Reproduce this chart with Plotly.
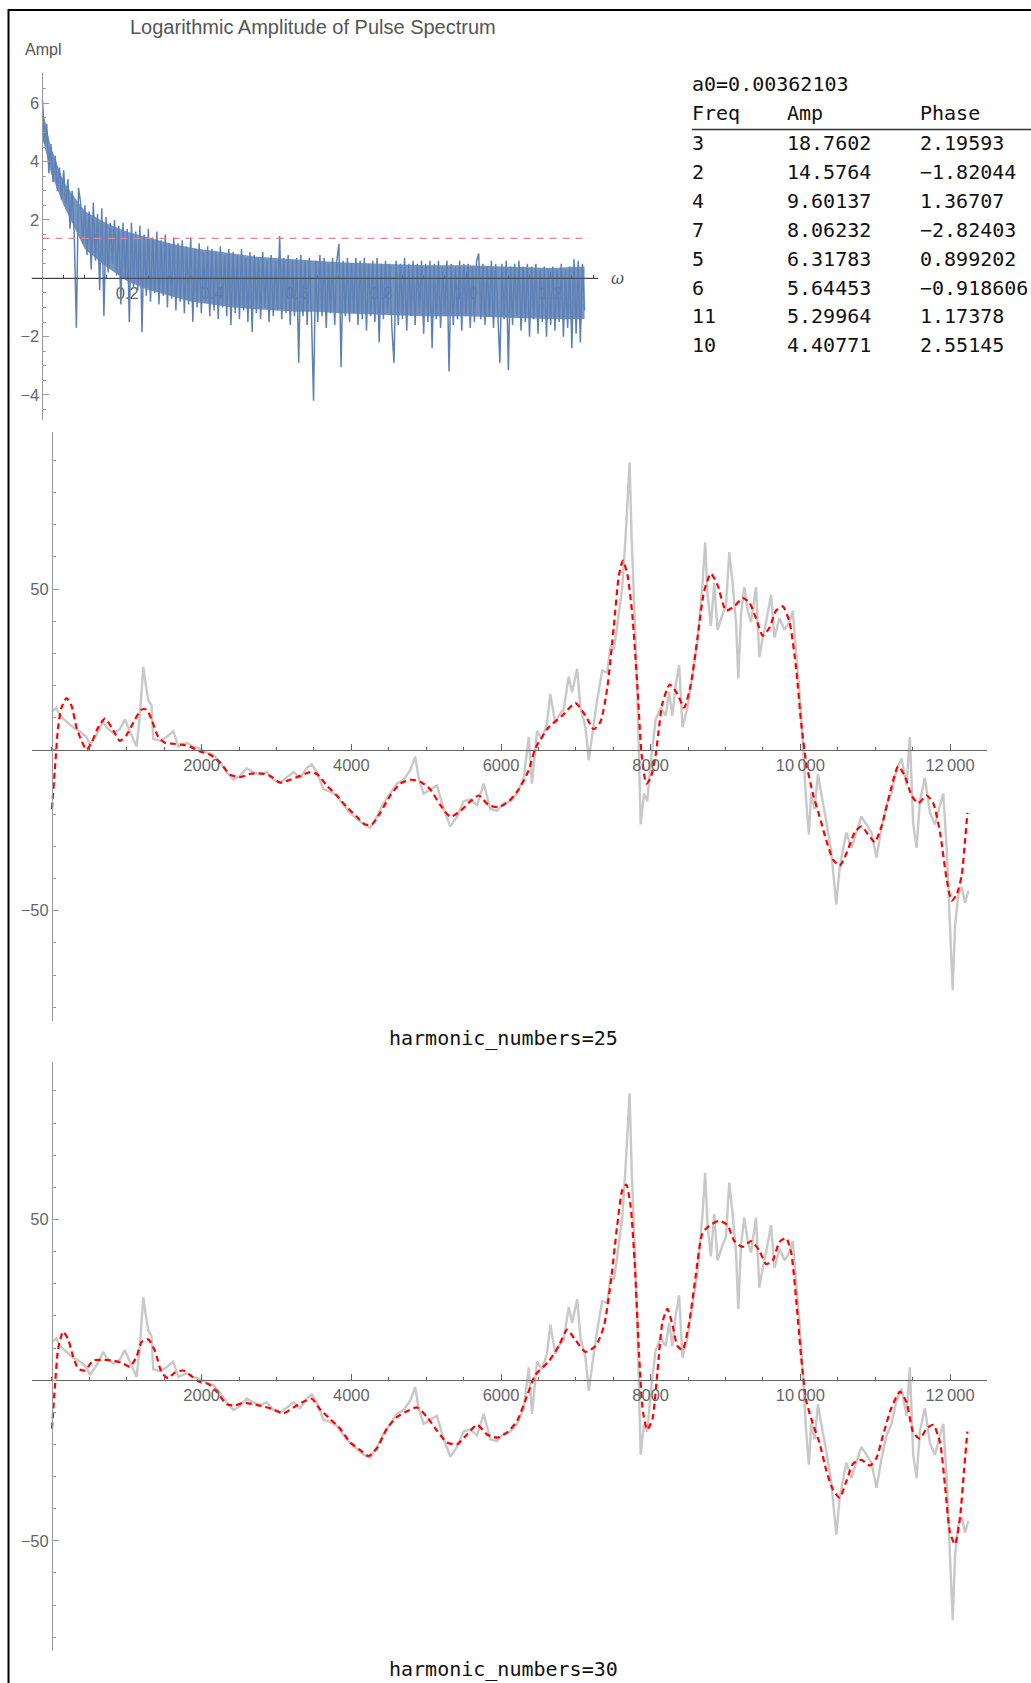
import plotly.graph_objects as go

W, H = 1031, 1683

# ---------------- data ----------------
# top panel: log amplitude of the pulse spectrum, sampled every 0.005 in omega
omega_step = 0.005
log_amp = [
    6.1, 4.6, 5.3, 3.6, 4.6, 3.3, 4.2, 3.0, 3.8, 2.7,
    3.7, 2.5, 3.4, 1.7, 3.0, 1.5, -1.7, 3.1, 2.6, 1.2,
    2.5, 0.8, 2.3, 0.3, 2.6, 0.6, 2.2, -0.4, 2.4, -1.3,
    2.1, 0.2, 1.9, 0.5, 2.0, 0.1, 1.8, -0.9, 1.9, 0.0,
    1.7, -1.5, 1.9, -0.3, 1.6, -0.4, 1.8, -1.85, 1.5, -0.6,
    1.7, -0.8, 1.4, -0.5, 1.6, -0.9, 1.3, -0.6, 1.5, -1.0,
    1.2, -0.7, 1.4, -1.1, 1.2, -0.8, 1.3, -1.2, 1.1, -0.9,
    1.4, -1.5, 1.0, -1.0, 1.2, -1.2, 0.9, -0.8, 1.1, -1.3,
    1.0, -1.1, 0.9, -1.4, 1.1, -1.0, 0.8, -1.3, 1.0, -1.6,
    0.9, -1.2, 0.8, -1.4, 1.0, -1.1, 0.7, -1.5, 0.9, -1.85,
    0.8, -1.2, 0.7, -1.4, 0.9, -1.0, 0.6, -1.5, 0.8, -1.3,
    0.6, -1.1, 1.45, -1.4, 0.7, -1.2, 0.8, -1.6, 0.6, -1.3,
    0.7, -2.9, 0.8, -1.3, 0.6, -1.6, 0.7, -1.2, -4.2, 0.6,
    -1.5, 0.8, -1.3, 0.7, -1.7, 0.5, -1.2, 0.7, -1.6, 0.6,
    1.18, -3.05, 0.6, -1.3, 0.7, -1.5, 0.5, -1.2, 0.7, -1.6,
    0.6, -1.4, 0.7, -1.8, 0.5, -1.3, 0.6, -1.5, 0.7, -2.2,
    0.5, -1.4, 0.6, -1.2, 0.5, -1.7, -2.9, 0.6, -1.6, 0.5,
    -1.4, 0.7, -1.8, 0.5, -1.3, 0.6, -1.6, 0.5, -1.2, 0.6,
    -1.9, 0.5, -1.5, 0.6, -2.4, 0.5, -1.4, 0.6, -1.7, 0.4,
    -1.3, 0.6, -3.2, 0.5, -1.6, 0.4, -1.4, 0.6, -1.8, 0.5,
    -1.3, 0.5, -1.7, 0.4, -1.5, 0.6, 0.85, -1.4, 0.5, -1.6,
    0.4, -1.3, 0.6, -1.7, 0.5, -1.5, -2.9, 0.5, -1.4, 0.6,
    -3.15, 0.4, -1.6, 0.5, -1.3, 0.6, -1.8, 0.4, -1.5, 0.5,
    -2.0, 0.4, -1.4, 0.5, -1.9, 0.3, -1.5, 0.4, -2.0, 0.3,
    -1.6, 0.4, -1.8, 0.3, -1.5, 0.5, -2.0, 0.3, -1.7, 0.4,
    -2.4, 0.65, -1.9, 0.6, -2.2, 0.5, -1.1,
]
omega = [i * omega_step for i in range(len(log_amp))]
# dense core of the spectrum band (read as envelopes)
band_x = [0.0, 0.02, 0.05, 0.1, 0.15, 0.2, 0.25, 0.3, 0.35, 0.4, 0.45, 0.5, 0.55, 0.6, 0.65, 0.7,
          0.8, 0.9, 1.0, 1.1, 1.2, 1.28]
band_hi = [5.8, 4.5, 3.3, 2.3, 1.9, 1.6, 1.4, 1.2, 1.05, 0.95, 0.85, 0.75, 0.7, 0.65, 0.6, 0.55,
           0.5, 0.45, 0.45, 0.4, 0.35, 0.4]
band_lo = [4.8, 3.6, 2.5, 1.0, 0.4, -0.1, -0.4, -0.6, -0.8, -0.9, -1.0, -1.05, -1.1, -1.15, -1.15, -1.2,
           -1.25, -1.3, -1.3, -1.35, -1.4, -1.4]
threshold_x = [0.0, 1.29]
threshold_y = [1.37, 1.37]

# table
a0_value = "0.00362103"
table_freq = [3, 2, 4, 7, 5, 6, 11, 10]
table_amp = ["18.7602", "14.5764", "9.60137", "8.06232", "6.31783", "5.64453", "5.29964", "4.40771"]
table_phase = ["2.19593", "-1.82044", "1.36707", "-2.82403", "0.899202", "-0.918606", "1.17378", "2.55145"]

# original signal (gray), same in both lower panels
signal_x = [0, 60, 105, 194, 283, 372, 461, 506, 595, 684, 729, 818, 907, 974, 1041, 1130, 1175, 1220,
            1255, 1286, 1331, 1353, 1443, 1532, 1621, 1688, 1799, 1888, 1978, 2067, 2156, 2245, 2334,
            2424, 2513, 2602, 2691, 2781, 2870, 2959, 3048, 3137, 3227, 3316, 3405, 3472, 3539, 3628,
            3717, 3806, 3896, 3985, 4074, 4163, 4252, 4342, 4431, 4520, 4609, 4698, 4788, 4854, 4899,
            4966, 5055, 5144, 5234, 5323, 5412, 5501, 5590, 5680, 5769, 5858, 5947, 6036, 6126, 6215,
            6304, 6371,
            6414, 6481, 6548, 6615, 6659, 6726, 6771, 6838, 6905, 6950, 7017, 7062, 7129, 7173, 7218,
            7285, 7352, 7419, 7464, 7508, 7553, 7620, 7665, 7687, 7718, 7745, 7777, 7821, 7866, 7911,
            7955, 8000, 8067, 8134, 8201, 8246, 8290, 8335, 8380, 8425, 8492, 8559, 8626, 8693, 8728,
            8760, 8804, 8849, 8894, 8961, 9006, 9050, 9095, 9140, 9171, 9207, 9251, 9296, 9341, 9408,
            9452, 9497, 9542, 9609, 9654, 9721, 9788, 9855, 9899, 9944, 9989, 10033, 10078, 10114,
            10145, 10190, 10235, 10279, 10346, 10413, 10480, 10525, 10570, 10614, 10681, 10748, 10815,
            10883, 10950, 11017, 11084, 11151, 11218, 11285, 11352, 11419, 11463, 11508, 11553, 11597,
            11664, 11732, 11799, 11866, 11910, 11955, 12000, 12036, 12067, 12112, 12156, 12201, 12246]
signal_y = [11.9, 13, 10.6, 8.8, 7, 5.8, 4, 1.6, 4.6, 8.8, 7, 5.2, 6.4, 9.4, 5.8, 1, 10.6, 25.8,
            20, 15.5, 13.7, 3.4, 2.8, 4, 5.8, 1, 2.2, 1, 0.4, -0.8, -1.5, -3.9, -6.9,
            -9.3, -8.1, -5.7, -6.9, -7.7, -6.9, -9.3, -10.2, -8.7, -6.9, -8.7, -5.7, -4.5, -6.9, -12.3,
            -13, -14.2, -17.2, -19.6, -21.4, -23.2, -24.2, -20.8, -16.6, -13.6, -10.5, -9.3, -6.3, -2.1, -8.7,
            -13.6, -12.3, -11.1, -18.4, -23.8, -20.8, -16, -15.4, -17.2, -10.5, -18.4, -19, -16.6, -16, -13.6,
            -8.7, 4,
            -10.5, 5.8, 3.4, 8.2, 17.3, 8.2, 10.6, 12.5, 22.8, 17.9, 25.2, 13.1, 7, -3.3, 4.6,
            15.5, 24.6, 24, 32.4, 31.2, 38.5, 50.6, 66.3, 76, 89.3, 66.3, 48.2, 19.1, -23.2, -13.6,
            -16, -3.9, 9.4, 13.1, 10.6, 17.9, 10.6, 20.3, 26.4, 7, 13.1, 22.8, 33.7, 51.8, 64.5,
            48.2, 38.5, 51.8, 37.3, 42.1, 44.6, 61.5, 51.8, 39.7, 22.2, 42.1, 50.6, 43.3, 39.7, 50.6,
            28.8, 34.9, 39.7, 48.2, 34.9, 40.9, 37.3, 39.7, 43.3, 30, 17.9, 2.2, -16, -26.3,
            -13.6, -18.4, -7.5, -13.6, -22, -31.7, -48.1, -36.6, -30.5, -25.7, -30.5, -25.7, -20.8,
            -23.2, -25.7, -33.5, -24.5, -17.2, -13.6, -6.3, -2.7, -11.1, 4, -23.2, -30.5, -16,
            -8.7, -19.6, -23.2, -17.2, -13.6, -30.5, -57.1, -74.7, -54.7, -45, -42.6, -47.5, -43.8]

# Fourier reconstruction with 25 harmonics (red dashed, middle)
fit25_x = [0, 38, 82, 127, 194, 261, 327, 394, 461, 528, 617, 707, 796, 907, 996, 1108, 1197, 1264,
           1331, 1420, 1509, 1621, 1732, 1844, 1978, 2112, 2245, 2379, 2513, 2647, 2781, 2914, 3048,
           3182, 3316, 3450, 3539, 3673, 3806, 3940, 4074, 4185, 4275, 4386, 4520, 4654, 4788, 4921,
           5055, 5189, 5323, 5457, 5590, 5702, 5836, 5969, 6103, 6237, 6371,
           6458, 6637, 6816, 6994, 7129, 7240, 7330, 7419, 7508, 7575, 7629, 7687, 7754, 7821, 7879,
           7942, 8000, 8067, 8156, 8255, 8358, 8447, 8536, 8626, 8715, 8804, 8894, 9006, 9117, 9229,
           9318, 9408, 9497, 9586, 9676, 9765, 9855, 9944, 10011, 10078, 10167, 10257, 10346, 10436,
           10525, 10614, 10726, 10815, 10905, 10994, 11084, 11195, 11307, 11396, 11486, 11575, 11687,
           11776, 11866, 11955, 12022, 12089, 12156, 12201, 12232]
fit25_y = [-18.4, -6.3, 7, 13.1, 16.1, 13.7, 7, 2.8, 0, 2.2, 7, 9.7, 7, 2.8, 4.6, 9.4, 12.5, 12.5,
           9.4, 4, 2.2, 1.9, 1.6, 1, -0.5, -1.5, -3.9, -7.7, -8.5, -7.5, -7.3, -8.1, -10.2,
           -9.3, -8.1, -6.9, -7.5, -11.1, -14.2, -17.8, -20.8, -23.2, -23.2, -19.6, -14.2, -10.5, -9.3, -9.9,
           -12.3, -17.2, -20.8, -19, -16, -14.2, -17.2, -17.8, -16, -12.3, -6.3,
           0.4, 7, 10.6, 14.5, 10.6, 6.4, 8.8, 19.1, 38.5, 54.2, 58.8, 54.8, 42.1, 20.3, -1.5,
           -10.5, -8.7, -1.5, 14.3, 20.3, 17.3, 13.1, 20.3, 34.9, 49.4, 54.8, 51.2, 43.3, 44.6, 47.2,
           45.8, 40.9, 35.5, 37.9, 43.3, 44.6, 39.7, 25.2, 8.2, -3.9, -13.6, -20.8, -28.1, -34.1,
           -36, -32.3, -25.7, -23.8, -26.3, -28.7, -23.8, -13.6, -5.1, -8.1, -14.2, -16.6, -14.2,
           -16.6, -25.7, -40.2, -46.9, -45, -39, -28.1, -19.6]

# Fourier reconstruction with 30 harmonics (red dashed, bottom)
fit30_x = [0, 38, 82, 149, 216, 283, 350, 439, 550, 684, 818, 930, 1041, 1130, 1197, 1286, 1376, 1465,
           1554, 1643, 1755, 1866, 1978, 2089, 2201, 2335, 2446, 2558, 2691, 2825, 2959, 3093, 3227,
           3360, 3472, 3583, 3717, 3851, 3985, 4119, 4230, 4342, 4475, 4609, 4743, 4877, 5011, 5144,
           5278, 5412, 5546, 5680, 5813, 5947, 6081, 6215, 6349,
           6458, 6637, 6771, 6883, 6994, 7129, 7263, 7374, 7464, 7553, 7620, 7674, 7732, 7790, 7844,
           7897, 7955, 8022, 8089, 8156, 8223, 8290, 8358, 8425, 8514, 8603, 8693, 8804, 8916, 9028,
           9117, 9229, 9341, 9452, 9542, 9631, 9721, 9810, 9877, 9944, 10011, 10078, 10167, 10257,
           10346, 10436, 10525, 10614, 10704, 10815, 10927, 11017, 11106, 11218, 11329, 11419, 11508,
           11598, 11687, 11776, 11866, 11933, 12000, 12067, 12134, 12187, 12232]
fit30_y = [-15.1, -2.4, 9.7, 15.1, 12.7, 7.3, 3.6, 3, 6.1, 6.3, 6.1, 5.4, 4.2, 7.3, 11.9, 12.7, 9.1, 2.4,
           0.6, 2.4, 3, 1.2, -0.6, -1.2, -3.6, -7.5, -7.9, -7, -7.5, -8.2, -9.1, -10.3, -8.5,
           -6.7, -5.8, -9.1, -12.1, -15.1, -19.4, -21.8, -23.6, -21.2, -15.1, -11.5, -9.7, -8.5, -11.5, -15.7,
           -19.4, -20, -16.9, -13.9, -16.9, -17.9, -16.3, -12.7, -4.8,
           1.6, 5.8, 10.6, 15.7, 12.5, 8.8, 10.6, 16.7, 30, 48.2, 59.1, 60.9, 54.2, 34.9, 8.2,
           -9.9, -15.4, -12.3, 2.2, 17.9, 22.2, 17.3, 10.6, 9.4, 17.9, 32.7, 45.8, 48.4, 49.6, 48.2,
           43.3, 41.5, 43.3, 40.3, 36.1, 37.3, 43, 44.2, 39.7, 25.2, 7, -6.3, -13.6, -19.6,
           -28.1, -34.1, -36.6, -31.5, -26, -24.8, -26.6, -24.2, -17, -8.5, -3.6, -6.9, -16.3,
           -18.2, -15.1, -13.9, -19.4, -32.9, -47.5, -51.1, -42.6, -28.1, -16]

for a, b, n in [(signal_x, signal_y, "signal"), (fit25_x, fit25_y, "fit25"), (fit30_x, fit30_y, "fit30"),
                (band_x, band_hi, "hi"), (band_x, band_lo, "lo")]:
    if len(a) != len(b):
        raise ValueError(f"{n}: {len(a)} x vs {len(b)} y")

top_xticks = [0.2, 0.4, 0.6, 0.8, 1.0, 1.2]
top_yticks = [-4, -2, 2, 4, 6]
low_xticks = [2000, 4000, 6000, 8000, 10000, 12000]
low_xticktext = ["2000", "4000", "6000", "8000", "10\u2009000", "12\u2009000"]
low_yticks = [-50, 50]

# ---------------- layout geometry (pixels) ----------------
top_xdom = [31.7 / W, 598 / W]
top_ydom = [1 - 420 / H, 1 - 73.3 / H]
top_xr = [-0.0255, 1.3117]
top_yr = [-4.86, 7.03]

low_xdom = [32 / W, 987 / W]
low_xr = [-267, 12494]
low_yr = [-84.3, 98.9]
mid_ydom = [1 - 1021 / H, 1 - 431.7 / H]
bot_ydom = [1 - 1651 / H, 1 - 1062.4 / H]


def zero_pos(dom, rng):
    return dom[0] + (0 - rng[0]) / (rng[1] - rng[0]) * (dom[1] - dom[0])


BLUE = "#5E81B5"
fig = go.Figure()
fig.add_trace(go.Scatter(x=band_x, y=band_lo, mode="lines", xaxis="x", yaxis="y",
                         line=dict(color=BLUE, width=0), hoverinfo="skip"))
fig.add_trace(go.Scatter(x=band_x, y=band_hi, mode="lines", xaxis="x", yaxis="y", fill="tonexty",
                         fillcolor="rgba(94,129,181,0.85)", line=dict(color=BLUE, width=0), hoverinfo="skip"))
fig.add_trace(go.Scatter(x=omega, y=log_amp, mode="lines", xaxis="x", yaxis="y",
                         line=dict(color=BLUE, width=1.5), hoverinfo="skip"))
fig.add_trace(go.Scatter(x=threshold_x, y=threshold_y, mode="lines", xaxis="x", yaxis="y",
                         line=dict(color="#E8808A", width=1.3, dash="7px,6px")))
fig.add_trace(go.Scatter(x=signal_x, y=signal_y, mode="lines", xaxis="x2", yaxis="y2",
                         line=dict(color="#C8C8C8", width=2.4)))
fig.add_trace(go.Scatter(x=fit25_x, y=fit25_y, mode="lines", xaxis="x2", yaxis="y2",
                         line=dict(color="#FF0000", width=2.2, dash="6px,4px", shape="spline", smoothing=0.6)))
fig.add_trace(go.Scatter(x=signal_x, y=signal_y, mode="lines", xaxis="x3", yaxis="y3",
                         line=dict(color="#C8C8C8", width=2.4)))
fig.add_trace(go.Scatter(x=fit30_x, y=fit30_y, mode="lines", xaxis="x3", yaxis="y3",
                         line=dict(color="#FF0000", width=2.2, dash="6px,4px", shape="spline", smoothing=0.6)))

tickfont = dict(family="Liberation Sans, Arial, sans-serif", size=16.5, color="#666666")


def xaxis(dom, rng, ydom, yrng, tickvals, ticktext, minor_dtick, color, layer="above traces"):
    return dict(domain=dom, range=rng, anchor="free", position=zero_pos(ydom, yrng),
                showline=True, linecolor=color, linewidth=1, ticks="inside", ticklen=6,
                tickcolor=color, tickwidth=1, tickmode="array", tickvals=tickvals, ticktext=ticktext,
                tickfont=tickfont, showgrid=False, zeroline=False, layer=layer,
                minor=dict(ticks="inside", ticklen=3, tickcolor=color, tickwidth=1,
                           tickmode="linear", tick0=0, dtick=minor_dtick, showgrid=False))


def yaxis(dom, rng, xdom, xrng, tickvals, ticktext, minor_dtick, color):
    return dict(domain=dom, range=rng, anchor="free", position=zero_pos(xdom, xrng),
                showline=True, linecolor=color, linewidth=1, ticks="inside", ticklen=6,
                tickcolor=color, tickwidth=1, tickmode="array", tickvals=tickvals, ticktext=ticktext,
                tickfont=tickfont, showgrid=False, zeroline=False,
                minor=dict(ticks="inside", ticklen=3, tickcolor=color, tickwidth=1,
                           tickmode="linear", tick0=0, dtick=minor_dtick, showgrid=False))


def fmt(v):
    return str(v).replace("-", "\u2212")


fig.update_layout(
    width=W, height=H, margin=dict(l=0, r=0, t=0, b=0),
    paper_bgcolor="white", plot_bgcolor="rgba(0,0,0,0)", showlegend=False,
    xaxis=xaxis(top_xdom, top_xr, top_ydom, top_yr, top_xticks, [f"{v:.1f}" for v in top_xticks],
                0.05, "#444444", layer="below traces"),
    yaxis=yaxis(top_ydom, top_yr, top_xdom, top_xr, top_yticks, [fmt(v) for v in top_yticks], 0.5, "#999999"),
    xaxis2=xaxis(low_xdom, low_xr, mid_ydom, low_yr, low_xticks, low_xticktext, 500, "#666666"),
    yaxis2=yaxis(mid_ydom, low_yr, low_xdom, low_xr, low_yticks, [fmt(v) for v in low_yticks], 10, "#999999"),
    xaxis3=xaxis(low_xdom, low_xr, bot_ydom, low_yr, low_xticks, low_xticktext, 500, "#666666"),
    yaxis3=yaxis(bot_ydom, low_yr, low_xdom, low_xr, low_yticks, [fmt(v) for v in low_yticks], 10, "#999999"),
)

shapes = [
    # frame
    dict(type="line", xref="paper", yref="paper", x0=8.5 / W, x1=8.5 / W, y0=1 - 9 / H, y1=0,
         line=dict(color="black", width=2)),
    dict(type="line", xref="paper", yref="paper", x0=8.5 / W, x1=1, y0=1 - 10 / H, y1=1 - 10 / H,
         line=dict(color="black", width=2)),
    # top x-axis line drawn above the spectrum
    dict(type="line", xref="x domain", yref="y", x0=0, x1=1, y0=0, y1=0, layer="above",
         line=dict(color="#444444", width=1)),
    # table header rule
    dict(type="line", xref="paper", yref="paper", x0=692 / W, x1=1, y0=1 - 129.5 / H, y1=1 - 129.5 / H,
         line=dict(color="#333333", width=1.5)),
]

sans = "Liberation Sans, Arial, sans-serif"
mono = "DejaVu Sans Mono, Liberation Mono, monospace"
ann = [
    dict(text="Logarithmic Amplitude of Pulse Spectrum", x=313 / W, y=1 - 27 / H, xanchor="center",
         yanchor="middle", font=dict(family=sans, size=20, color="#555555")),
    dict(text="Ampl", x=23 / W, y=1 - 50 / H, xanchor="left", yanchor="middle",
         font=dict(family=sans, size=16, color="#555555")),
    dict(text="<i>ω</i>", x=609 / W, y=1 - 278 / H, xanchor="left", yanchor="middle",
         font=dict(family="DejaVu Serif, serif", size=16, color="#555555")),
    dict(text=f"a0={a0_value}", x=690 / W, y=1 - 84 / H, xanchor="left", yanchor="middle",
         font=dict(family=mono, size=20, color="#111111")),
    dict(text="harmonic_numbers=25", x=503 / W, y=1 - 1038 / H, xanchor="center", yanchor="middle",
         font=dict(family=mono, size=20, color="#111111")),
    dict(text="harmonic_numbers=30", x=503 / W, y=1 - 1669 / H, xanchor="center", yanchor="middle",
         font=dict(family=mono, size=20, color="#111111")),
]
col_x = [690, 785, 918]
for cx, head in zip(col_x, ["Freq", "Amp", "Phase"]):
    ann.append(dict(text=head, x=cx / W, y=1 - 112.5 / H, xanchor="left", yanchor="middle",
                    font=dict(family=mono, size=20, color="#111111")))
for i, (f, a, p) in enumerate(zip(table_freq, table_amp, table_phase)):
    yy = 1 - (142.7 + i * 28.96) / H
    for cx, t in zip(col_x, [str(f), a, fmt(p)]):
        ann.append(dict(text=t, x=cx / W, y=yy, xanchor="left", yanchor="middle",
                        font=dict(family=mono, size=20, color="#111111")))

for a in ann:
    a.update(xref="paper", yref="paper", showarrow=False)

fig.update_layout(shapes=shapes, annotations=ann)

fig.write_html("out.html", config={"displayModeBar": False},
               post_script="document.body.style.margin='0';")
